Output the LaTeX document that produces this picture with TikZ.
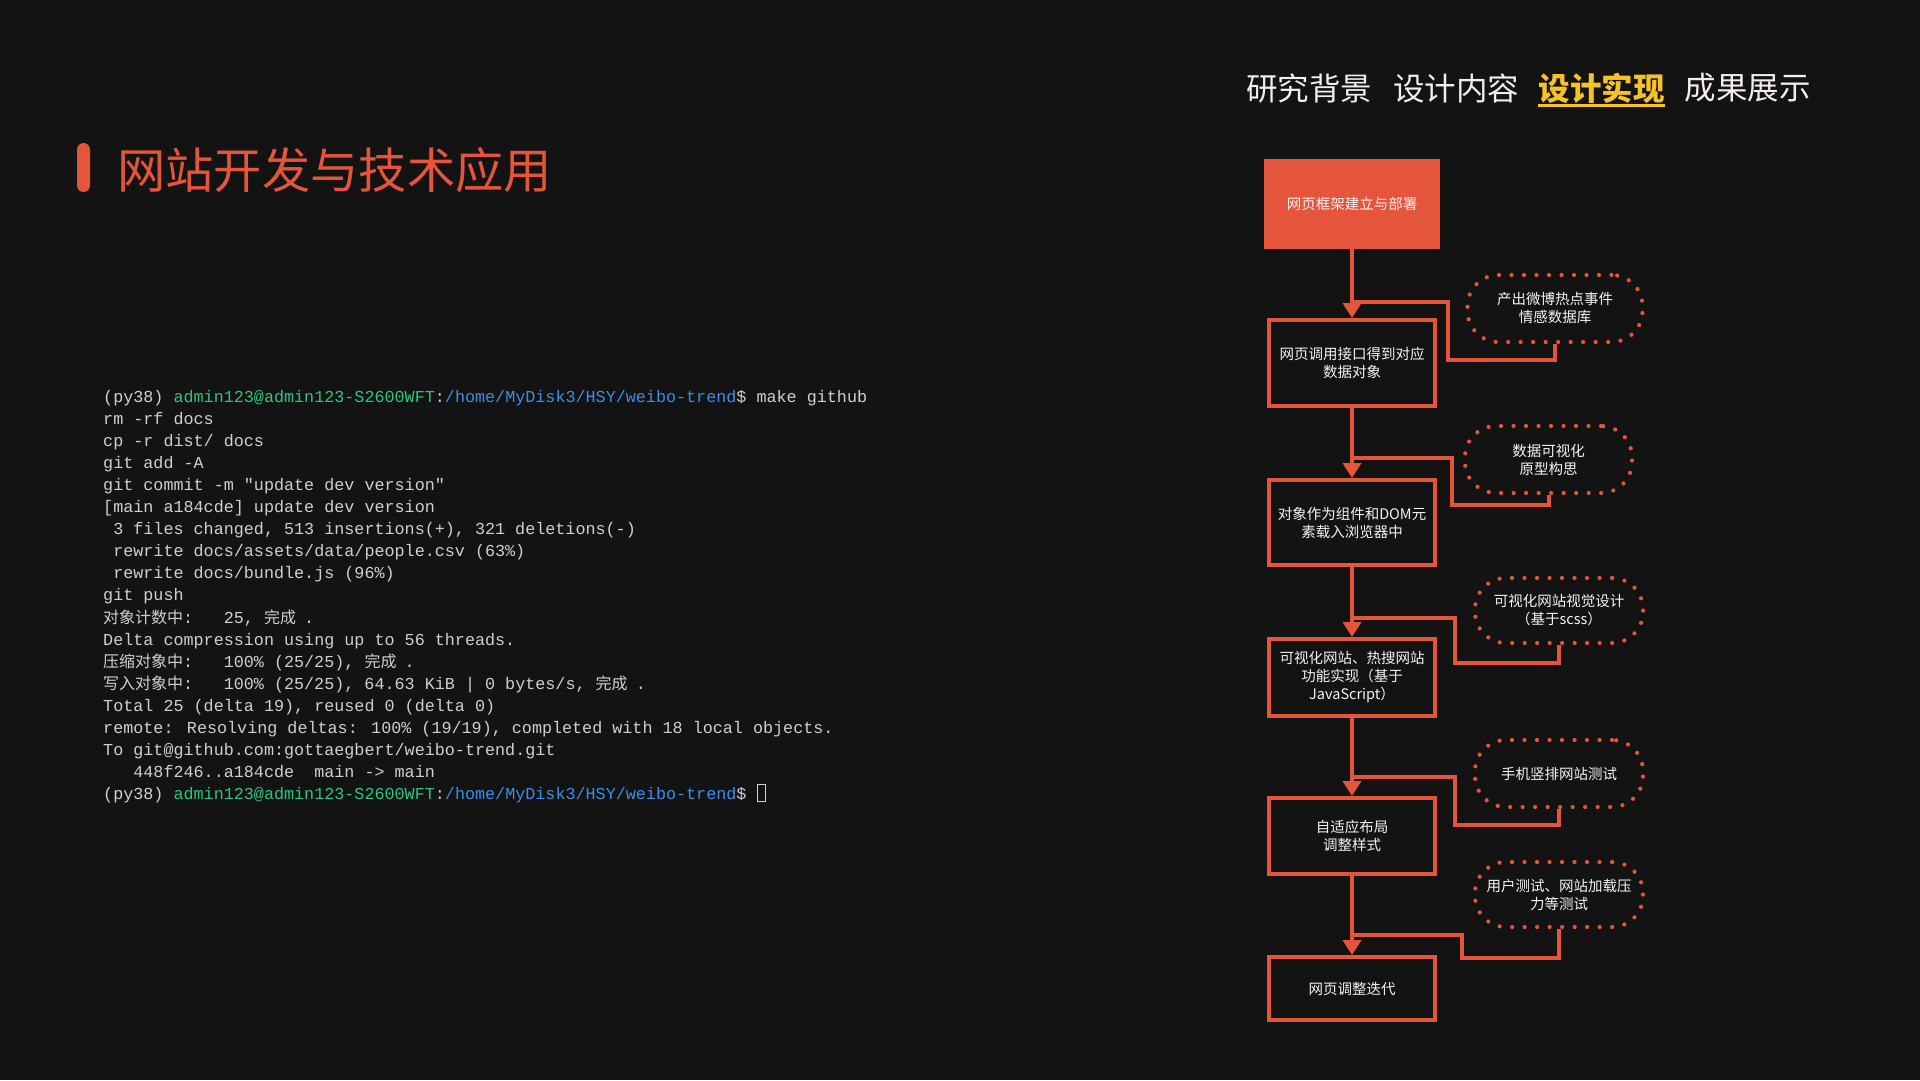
\documentclass[tikz,border=0pt]{standalone}
\usepackage{fontspec}
\usetikzlibrary{arrows.meta}
\newfontfamily\cjk{Noto Sans CJK SC}
\newfontfamily\tmono{Liberation Mono}
\definecolor{bg}{HTML}{131313}
\definecolor{accent}{HTML}{E5553C}
\definecolor{navfg}{HTML}{F3EDED}
\definecolor{navhi}{HTML}{F6C325}
\definecolor{boxfg}{HTML}{F4F4F4}
\definecolor{termfg}{HTML}{D0D0D0}
\definecolor{tgreen}{HTML}{2EC47E}
\definecolor{tblue}{HTML}{3B8EEA}
% CJK run in the terminal: glyphs at 16pt, cell of given width
\newcommand\zh[2]{\makebox[#1][l]{\cjk\fontsize{16pt}{22pt}\selectfont #2}}
\newcommand\boxfont{\cjk\fontsize{14.5pt}{18pt}\selectfont}
\newcommand\prompt{(py38) \textcolor{tgreen}{admin123@admin123-S2600WFT}:\textcolor{tblue}{/home/MyDisk3/HSY/weibo-trend}\$}
\begin{document}
\begin{tikzpicture}[x=1pt,y=-1pt,
  flow/.style={draw=accent, line width=4pt, -{Triangle[width=18pt,length=15pt]}},
  link/.style={draw=accent, line width=4pt},
  stepbox/.style={draw=accent, line width=4pt, minimum width=166pt, text=boxfg, font=\boxfont, align=center, inner sep=0pt},
  note/.style={draw=accent, line width=4.2pt, dash pattern=on 0pt off 12.5pt, line cap=round, rounded corners=31pt, minimum width=168pt, text=boxfg, font=\boxfont, align=center, inner sep=0pt},
  term/.style={anchor=base west, inner sep=0pt, text=termfg, font=\tmono\fontsize{16.75pt}{22pt}\selectfont},
  nav/.style={inner sep=0pt, text=navfg, font=\cjk\fontsize{31.5pt}{36pt}\selectfont}
]
\fill[bg] (0,0) rectangle (1920,1080);

% navigation
\node[nav] (n1) at (1309,88) {研究背景};
\node[nav] (n2) at (1456,88) {设计内容};
\node[nav, text=navhi, font=\cjk\bfseries\fontsize{31.5pt}{36pt}\selectfont] (n3) at (1601.5,88) {设计实现};
\node[nav] (n4) at (1747.5,88) {成果展示};
\draw[navhi, line width=3pt] (n3.west |- 0,105) -- (n3.east |- 0,105);

% title
\node[fill=accent, rounded corners=6.5pt, minimum width=13pt, minimum height=49pt, inner sep=0pt] (bar) at (83.5,167.5) {};
\node[anchor=west, inner sep=0pt, text=accent, font=\cjk\fontsize{48.3pt}{50pt}\selectfont] (title) at (117,170) {网站开发与技术应用};

% terminal
\node[term] (t0) at (103,402.0) {\prompt{} make github};
\node[term] (t1) at (103,424.1) {rm -rf docs};
\node[term] (t2) at (103,446.2) {cp -r dist/ docs};
\node[term] (t3) at (103,468.3) {git add -A};
\node[term] (t4) at (103,490.4) {git commit -m "update dev version"};
\node[term] (t5) at (103,512.5) {[main a184cde] update dev version};
\node[term] (t6) at (113.05,534.6) {3 files changed, 513 insertions(+), 321 deletions(-)};
\node[term] (t7) at (113.05,556.7) {rewrite docs/assets/data/people.csv (63\%)};
\node[term] (t8) at (113.05,578.8) {rewrite docs/bundle.js (96\%)};
\node[term] (t9) at (103,600.9) {git push};
\node[term] (t10) at (103,623.0) {\makebox[120.6pt][l]{\zh{80pt}{对象计数中}:}25, \zh{40.2pt}{完成}.};
\node[term] (t11) at (103,645.1) {Delta compression using up to 56 threads.};
\node[term] (t12) at (103,667.2) {\makebox[120.6pt][l]{\zh{80pt}{压缩对象中}:}100\% (25/25), \zh{40.2pt}{完成}.};
\node[term] (t13) at (103,689.3) {\makebox[120.6pt][l]{\zh{80pt}{写入对象中}:}100\% (25/25), 64.63 KiB | 0 bytes/s, \zh{40.2pt}{完成}.};
\node[term] (t14) at (103,711.4) {Total 25 (delta 19), reused 0 (delta 0)};
\node[term] (t15) at (103,733.5) {remote: Resolving deltas: 100\% (19/19), completed with 18 local objects.};
\node[term] (t16) at (103,755.6) {To git@github.com:gottaegbert/weibo-trend.git};
\node[term] (t17) at (133.15,777.7) {448f246..a184cde\ \ main -> main};
\node[term] (t18) at (103,799.8) {\prompt};
\node[draw=termfg, line width=1pt, minimum width=8pt, minimum height=17pt, inner sep=0pt] (cursor) at (761,793) {};

% flowchart boxes
\node[fill=accent, minimum width=176pt, minimum height=90pt, text=boxfg, font=\boxfont, inner sep=0pt] (b1) at (1352,204) {网页框架建立与部署};
\node[stepbox, minimum height=86pt] (b2) at (1352,363) {网页调用接口得到对应\\数据对象};
\node[stepbox, minimum height=85pt] (b3) at (1352,522.5) {对象作为组件和DOM元\\素载入浏览器中};
\node[stepbox, minimum height=77pt] (b4) at (1352,677.5) {可视化网站、热搜网站\\功能实现（基于\\JavaScript）};
\node[stepbox, minimum height=76pt] (b5) at (1352,836) {自适应布局\\调整样式};
\node[stepbox, minimum height=63pt] (b6) at (1352,988.5) {网页调整迭代};

% side notes
\node[note, minimum width=175pt, minimum height=67pt] (e1) at (1555,308.5) {产出微博热点事件\\情感数据库};
\node[note, minimum width=167pt, minimum height=67pt] (e2) at (1548.5,459.5) {数据可视化\\原型构思};
\node[note, minimum height=65pt] (e3) at (1559,610.5) {可视化网站视觉设计\\（基于scss）};
\node[note, minimum height=67pt] (e4) at (1559,773.5) {手机竖排网站测试};
\node[note, minimum height=65pt] (e5) at (1559,894.5) {用户测试、网站加载压\\力等测试};

% junctions on the main line
\coordinate (j1) at (1352,302);
\coordinate (j2) at (1352,458);
\coordinate (j3) at (1352,618);
\coordinate (j4) at (1352,777);
\coordinate (j5) at (1352,935);

% main flow
\draw[flow] (b1.south) -- (b2.north);
\draw[flow] (b2.south) -- (b3.north);
\draw[flow] (b3.south) -- (b4.north);
\draw[flow] (b4.south) -- (b5.north);
\draw[flow] (b5.south) -- (b6.north);

% side links
\draw[link] (e1.south) |- (1448,360) |- (j1);
\draw[link] (e2.south) |- (1452,505) |- (j2);
\draw[link] (e3.south) |- (1455,663) |- (j3);
\draw[link] (e4.south) |- (1455,825) |- (j4);
\draw[link] (e5.south) |- (1462,958) |- (j5);
\end{tikzpicture}
\end{document}
